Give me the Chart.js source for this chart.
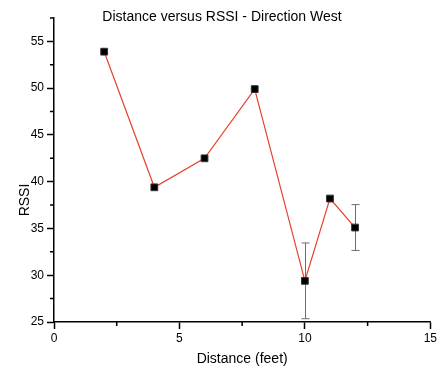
<!DOCTYPE html>
<html lang="en">
<head>
<meta charset="UTF-8" />
<title>Distance versus RSSI - Direction West</title>
<script src="https://cdn.jsdelivr.net/npm/chart.js@4.4.0/dist/chart.umd.min.js"></script>
<style>
  html,body{margin:0;background:#fff}
  .box{width:439px;height:367px;position:relative}
</style>
</head>
<body>
<div class="box"><canvas id="c"></canvas></div>
<script>
/* data */
const distance = [2, 4, 6, 8, 10, 11, 12];
const rssi     = [53.9, 39.4, 42.5, 49.9, 29.4, 38.2, 35.1];
const rssiErr  = [0, 0, 0, 0, 4.05, 0, 2.45];
const xTicks = [0, 5, 10, 15];
const yTicks = [25, 30, 35, 40, 45, 50, 55];
const xMinor = [2.5, 7.5, 12.5];
const yMinor = [27.5, 32.5, 37.5, 42.5, 47.5, 52.5, 57.5];

const FONT = '"Liberation Sans", Arial, sans-serif';

/* error bars, minor ticks, titles */
Chart.register({
  id:'extras',
  beforeDatasetsDraw:c=>{
    const ctx=c.ctx, x=c.scales.x, y=c.scales.y;
    ctx.save(); ctx.strokeStyle='#6e6e6e'; ctx.lineWidth=1;
    distance.forEach((d,i)=>{
      const e=rssiErr[i]; if(!e) return;
      const px=Math.round(x.getPixelForValue(d))+.5, t=y.getPixelForValue(rssi[i]+e), b=y.getPixelForValue(rssi[i]-e);
      ctx.beginPath();
      ctx.moveTo(px,t); ctx.lineTo(px,b);
      ctx.moveTo(px-4,t); ctx.lineTo(px+4,t);
      ctx.moveTo(px-4,b); ctx.lineTo(px+4,b);
      ctx.stroke();
    });
    ctx.restore();
  },
  afterDraw:c=>{
    const ctx=c.ctx, a=c.chartArea, x=c.scales.x, y=c.scales.y;
    ctx.save(); ctx.strokeStyle='#000'; ctx.lineWidth=1.5;
    ctx.beginPath();
    xMinor.forEach(v=>{const p=x.getPixelForValue(v); ctx.moveTo(p,a.bottom); ctx.lineTo(p,a.bottom+4);});
    yMinor.forEach(v=>{const p=y.getPixelForValue(v); ctx.moveTo(a.left,p); ctx.lineTo(a.left-4,p);});
    ctx.stroke();

    ctx.fillStyle='#000'; ctx.textAlign='center'; ctx.textBaseline='middle';
    ctx.font='14px '+FONT;
    ctx.fillText('Distance versus RSSI - Direction West',222,17);
    ctx.fillText('Distance (feet)',(a.left+a.right)/2,359);
    ctx.translate(25,200); ctx.rotate(-Math.PI/2);
    ctx.fillText('RSSI',0,0);
    ctx.restore();
  }
});

new Chart(document.getElementById('c'),{
  type:'line',
  data:{datasets:[{
    data:distance.map((d,i)=>({x:d,y:rssi[i]})),
    borderColor:'#e8412c', borderWidth:1.2, tension:0,
    pointStyle:'rect', pointRadius:4.8, pointBackgroundColor:'#000',
    pointBorderColor:'#333', pointBorderWidth:1
  }]},
  options:{
    responsive:true, maintainAspectRatio:false, animation:false,
    layout:{padding:{top:18,right:0,left:0,bottom:0}},
    plugins:{legend:{display:false},tooltip:{enabled:false},title:{display:false}},
    scales:{
      x:{type:'linear',min:0,max:15,
        afterBuildTicks:s=>{s.ticks=xTicks.map(v=>({value:v}));},
        afterFit:s=>{s.height=45;},
        grid:{drawOnChartArea:false,tickLength:7,color:'#000',tickWidth:1.5},
        border:{color:'#000',width:1.5},
        ticks:{color:'#000',font:{family:FONT,size:12},padding:2,maxRotation:0}},
      y:{type:'linear',min:25,max:57.5,
        afterBuildTicks:s=>{s.ticks=yTicks.map(v=>({value:v}));},
        afterFit:s=>{s.width=54;},
        grid:{drawOnChartArea:false,tickLength:7,color:'#000',tickWidth:1.5},
        border:{color:'#000',width:1.5},
        ticks:{color:'#000',font:{family:FONT,size:12},padding:3}}
    }
  }
});
</script>
</body>
</html>
